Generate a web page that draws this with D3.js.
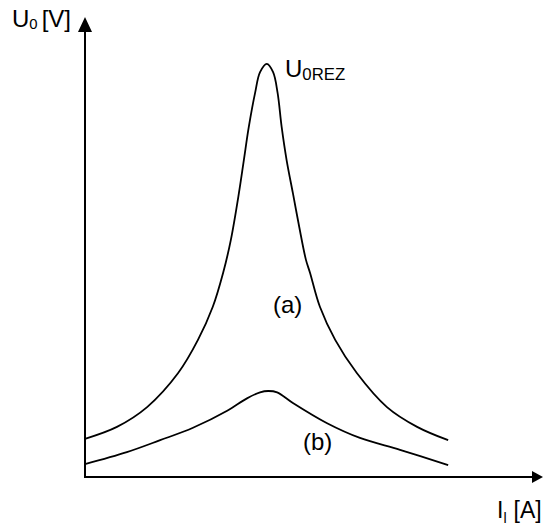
<!DOCTYPE html>
<html><head><meta charset="utf-8">
<script src="https://cdn.jsdelivr.net/npm/d3@7"></script>
<style>body{margin:0;background:#fff}svg{display:block}text{font-family:"Liberation Sans",Arial,sans-serif;fill:#000}</style>
</head><body>
<script>
// Curve (a): high-Q resonance; curve (b): low-Q resonance (arbitrary units)
const curveA_x = [0, 7.1, 13.8, 20.7, 25.1, 28.4, 30.7, 32.4, 34.2, 35.3, 36.4, 37.8, 38.9, 40.4, 41.8, 42.8, 43.7, 44.8, 46.2, 47.6, 49.1, 50.0, 52.2, 55.6, 60.4, 67.1, 73.8, 80.7];
const curveA_y = [8.3, 10.9, 15.2, 22.6, 29.8, 37.0, 44.4, 51.5, 61.7, 68.9, 76.1, 83.5, 88.0, 89.8, 88.0, 83.5, 76.1, 68.9, 61.7, 54.4, 47.2, 44.4, 37.0, 29.8, 22.6, 15.2, 10.9, 8.0];
const curveB_x = [0, 9.3, 16.7, 24.0, 31.6, 36.0, 38.9, 40.7, 42.7, 46.2, 53.8, 61.1, 70.0, 80.7];
const curveB_y = [2.8, 5.4, 8.0, 10.7, 14.4, 17.1, 18.4, 18.7, 18.4, 16.1, 11.7, 8.5, 5.9, 2.6];
const xDomain = [0, 100];
const yDomain = [0, 100];
const labels = {y: ["U", "0", "[V]"], x: ["I", "l", "[A]"], peak: ["U", "0REZ"], a: "(a)", b: "(b)"};

const W = 544, H = 524;
const svg = d3.select("body").append("svg").attr("width", W).attr("height", H);
const x = d3.scaleLinear().domain(xDomain).range([85, 535]);
const y = d3.scaleLinear().domain(yDomain).range([477, 17]);

// axes
svg.append("line").attr("x1", x(0)).attr("y1", y(0)).attr("x2", 533).attr("y2", y(0))
  .attr("stroke", "#000").attr("stroke-width", 2);
svg.append("path").attr("d", `M543,${y(0)} L532,${y(0)-6} L532,${y(0)+6} Z`).attr("fill", "#000");
svg.append("line").attr("x1", x(0)).attr("y1", y(0)+1).attr("x2", x(0)).attr("y2", 30)
  .attr("stroke", "#000").attr("stroke-width", 2);
svg.append("path").attr("d", `M${x(0)},17 L${x(0)-7},32 L${x(0)+7},32 Z`).attr("fill", "#000");

const line = d3.line().x(d => x(d[0])).y(d => y(d[1])).curve(d3.curveCatmullRom.alpha(0.5));
const dataA = curveA_x.map((v, i) => [v, curveA_y[i]]);
const dataB = curveB_x.map((v, i) => [v, curveB_y[i]]);
[dataA, dataB].forEach(d => {
  svg.append("path").attr("d", line(d)).attr("fill", "none").attr("stroke", "#000").attr("stroke-width", 1.8);
});

function subText(xp, yp, parts, fs, ratio, shift, gap) {
  const t = svg.append("text").attr("x", xp).attr("y", yp).attr("font-size", fs);
  t.append("tspan").text(parts[0]);
  t.append("tspan").attr("dy", shift).attr("font-size", fs * ratio).text(parts[1]);
  if (parts[2]) t.append("tspan").attr("dy", -shift).attr("dx", gap).text(parts[2]);
  return t;
}
subText(12, 27, labels.y, 24, 0.62, 2, 4);
subText(497, 518, labels.x, 23, 0.62, 5, 7);
subText(285, 77, labels.peak, 24, 0.7, 3, 0);
svg.append("text").attr("x", 273).attr("y", 313).attr("font-size", 24).text(labels.a);
svg.append("text").attr("x", 303).attr("y", 450).attr("font-size", 24).text(labels.b);
</script>
</body></html>
